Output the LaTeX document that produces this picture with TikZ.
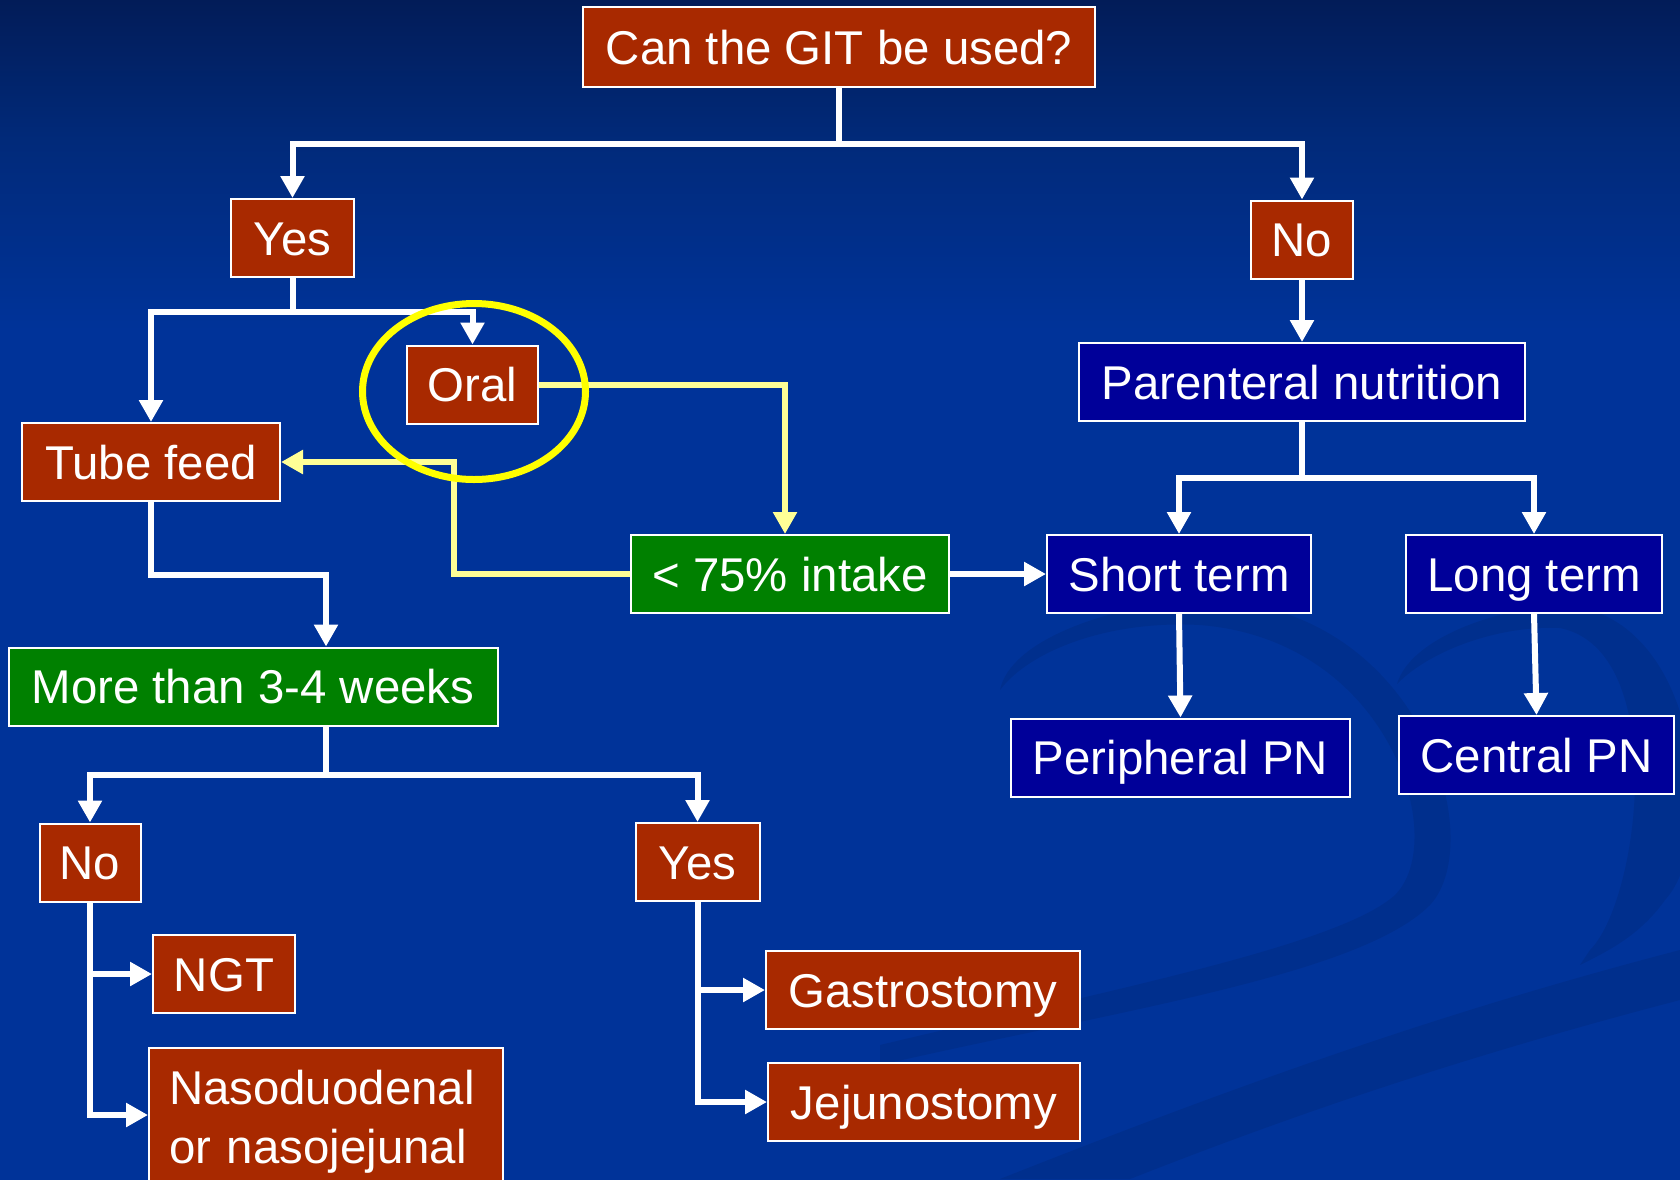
\documentclass[tikz,border=0pt]{standalone}
\usepackage{fontspec}
\setmainfont{Liberation Sans}
\usetikzlibrary{arrows.meta}

\newcommand\chartfont{\fontsize{23.7pt}{29.5pt}\selectfont}

\definecolor{bgtop}{RGB}{2,28,88}
\definecolor{bgmid}{RGB}{1,42,122}
\definecolor{bgbot}{RGB}{0,51,153}
\definecolor{boxred}{RGB}{168,41,0}
\definecolor{boxgreen}{RGB}{0,128,0}
\definecolor{boxblue}{RGB}{0,0,153}
\definecolor{hintyellow}{RGB}{255,255,150}
\definecolor{ringyellow}{RGB}{255,255,0}

% slide background: dark navy at the top fading into royal blue
\pgfdeclareverticalshading{slidebg}{100bp}{color(0bp)=(bgbot); color(61bp)=(bgbot); color(69bp)=(bgmid); color(75bp)=(bgtop); color(100bp)=(bgtop)}

\tikzset{
  box/.style={draw=white, line width=1pt, text=white, inner sep=0pt,
    font=\chartfont, minimum height=39pt},
  oneline/.style={text height=17pt, text depth=0pt},
  redbox/.style={box, oneline, fill=boxred},
  greenbox/.style={box, oneline, fill=boxgreen},
  bluebox/.style={box, oneline, fill=boxblue},
  link/.style={draw=white, line width=3pt},
  linkarrow/.style={link, -{Triangle[width=11.5pt,length=11pt]}},
  hint/.style={draw=hintyellow, line width=3pt},
  hintarrow/.style={hint, -{Triangle[width=11.5pt,length=11pt]}},
  swirl/.style={fill=black, fill opacity=0.08, draw=none},
}

\begin{document}
\begin{tikzpicture}[x=0.5pt,y=-0.5pt]
\useasboundingbox (0,0) rectangle (1680,1179);
\fill[shading=slidebg] (0,0) rectangle (1680,1179);

% faint decorative swirls of the slide template
\fill[swirl] (1000,690) .. controls (1010,640) and (1110,605) .. (1200,600)
  .. controls (1420,600) and (1490,840) .. (1430,905)
  .. controls (1360,975) and (1120,1010) .. (880,1065)
  -- (880,1045)
  .. controls (1110,990) and (1340,945) .. (1395,895)
  .. controls (1450,840) and (1390,640) .. (1200,625)
  .. controls (1110,620) and (1030,650) .. (1000,690) -- cycle;
\fill[swirl] (1397,684) .. controls (1410,640) and (1490,610) .. (1560,605)
  .. controls (1700,610) and (1720,840) .. (1665,900)
  .. controls (1640,935) and (1610,950) .. (1580,965)
  -- (1590,950)
  .. controls (1640,900) and (1670,650) .. (1560,628)
  .. controls (1500,625) and (1430,650) .. (1397,684) -- cycle;
\fill[swirl] (1000,1179) .. controls (1250,1080) and (1450,1010) .. (1680,950)
  -- (1680,1000) .. controls (1450,1060) and (1280,1120) .. (1130,1179) -- cycle;

% boxes
\node[redbox, minimum width=256pt, minimum height=40pt] (git) at (839,47) {Can the GIT be used?};
\node[redbox, minimum width=61.5pt] (yes1) at (292.5,238) {Yes};
\node[redbox, minimum width=51pt] (no1) at (1302,239.5) {No};
\node[redbox, minimum width=65.5pt] (oral) at (472.5,384.5) {Oral};
\node[redbox, minimum width=129pt] (tube) at (151,462) {Tube feed};
\node[bluebox, minimum width=223pt] (pn) at (1302,382) {Parenteral nutrition};
\node[greenbox, minimum width=159pt] (lt75) at (790,574) {< 75\% intake};
\node[bluebox, minimum width=132pt] (short) at (1179,574) {Short term};
\node[bluebox, minimum width=128pt] (long) at (1534,574) {Long term};
\node[greenbox, minimum width=244.5pt] (more) at (253,686.5) {More than 3-4 weeks};
\node[bluebox, minimum width=169.5pt] (periph) at (1180.5,757.5) {Peripheral PN};
\node[bluebox, minimum width=137.5pt] (central) at (1536.5,755) {Central PN};
\node[redbox, minimum width=50.5pt] (no2) at (90,862.5) {No};
\node[redbox, minimum width=62pt] (yes2) at (697.5,862) {Yes};
\node[redbox, minimum width=71pt] (ngt) at (224,974) {NGT};
\node[redbox, minimum width=157pt] (gastro) at (923,990) {Gastrostomy};
\node[redbox, minimum width=156pt] (jejuno) at (924,1102) {Jejunostomy};
\node[box, fill=boxred, anchor=north west, align=left, text width=157pt,
  inner xsep=10pt, inner ysep=11pt] (naso) at (148,1047)
  {Nasoduodenal\\or nasojejunal};

% white connectors
\draw[link] (git.south) -- ++(0,56) coordinate (splitTop);
\draw[linkarrow] (splitTop) -| (yes1.north);
\draw[linkarrow] (splitTop) -| (no1.north);

\draw[link] (yes1.south) -- ++(0,34) coordinate (splitYes);
\draw[linkarrow] (splitYes) -| (tube.north);
\draw[linkarrow] (splitYes) -| (oral.north);

\draw[linkarrow] (no1.south) -- (pn.north);
\draw[link] (pn.south) -- ++(0,56) coordinate (splitPN);
\draw[linkarrow] (splitPN) -| (short.north);
\draw[linkarrow] (splitPN) -| (long.north);
\draw[linkarrow] (short.south) -- (periph.north);
\draw[linkarrow] (long.south) -- (central.north);
\draw[linkarrow] (lt75.east) -- (short.west);

\coordinate (moreIn) at ([xshift=36.5pt]more.north);
\coordinate (moreOut) at ([xshift=36.5pt]more.south);
\draw[linkarrow] (tube.south) -- ++(0,73) -| (moreIn);
\draw[link] (moreOut) -- ++(0,48) coordinate (splitMore);
\draw[linkarrow] (splitMore) -| (no2.north);
\draw[linkarrow] (splitMore) -| (yes2.north);

\draw[linkarrow] (no2.south) |- (ngt.west);
\draw[linkarrow] (no2.south) |- ([yshift=-34pt]naso.north west);
\draw[linkarrow] (yes2.south) |- (gastro.west);
\draw[linkarrow] (yes2.south) |- (jejuno.west);

% pale yellow connectors
\draw[hintarrow] (oral.east) -| ([xshift=-2.5pt]lt75.north);
\draw[hintarrow] (lt75.west) -- ++(-176,0) |- (tube.east);

% highlight ring round the oral box
\draw[ringyellow, line width=3.5pt] ([xshift=0.75pt,yshift=-3.5pt]oral.center)
  ellipse [x radius=55.75pt, y radius=44pt];
\end{tikzpicture}
\end{document}
